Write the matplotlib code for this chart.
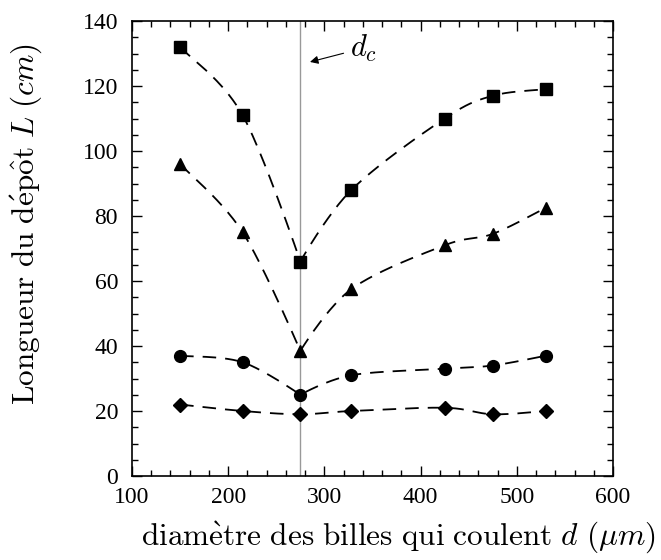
import numpy as np
import matplotlib
matplotlib.use("Agg")
import matplotlib.pyplot as plt
from matplotlib.ticker import MultipleLocator

plt.rcParams['mathtext.fontset'] = 'cm'
plt.rcParams['font.family'] = ['Liberation Serif', 'DejaVu Serif']

d = [150, 215, 275, 328, 425, 475, 530]
L_square = [132, 111, 66, 88, 110, 117, 119]
L_triangle = [96, 75, 38.5, 57.5, 71, 74.5, 82.5]
L_circle = [37, 35, 25, 31, 33, 34, 37]
L_diamond = [22, 20, 19, 20, 21, 19, 20]
d_c = 275

series = [(L_square, 's', 8), (L_triangle, '^', 9), (L_circle, 'o', 8.5), (L_diamond, 'D', 7)]


def smooth_curve(ax, x, y, n=40):
    # Hermite spline in display space; zero tangent (cusp) at local extrema
    pts = ax.transData.transform(np.column_stack([x, y]))
    N = len(pts)
    T = np.zeros_like(pts)
    for i in range(N):
        if i == 0:
            T[i] = 0.5 * (pts[1] - pts[0])
        elif i == N - 1:
            T[i] = 0.5 * (pts[-1] - pts[-2])
        else:
            dy1 = y[i] - y[i - 1]
            dy2 = y[i + 1] - y[i]
            if dy1 * dy2 < 0 and abs(dy1) + abs(dy2) > 10:
                T[i] = 0.0
            else:
                T[i] = 0.5 * (pts[i + 1] - pts[i - 1])
    out = []
    t = np.linspace(0, 1, n, endpoint=False)[:, None]
    h00 = 2 * t ** 3 - 3 * t ** 2 + 1
    h10 = t ** 3 - 2 * t ** 2 + t
    h01 = -2 * t ** 3 + 3 * t ** 2
    h11 = t ** 3 - t ** 2
    for i in range(N - 1):
        out.append(h00 * pts[i] + h10 * T[i] + h01 * pts[i + 1] + h11 * T[i + 1])
    out.append(pts[-1][None, :])
    out = np.vstack(out)
    data = ax.transData.inverted().transform(out)
    return data[:, 0], data[:, 1]


fig = plt.figure(figsize=(6.61, 5.60), dpi=100)
ax = fig.add_axes([0.1997, 0.15, 0.7277, 0.8125])
ax.set_xlim(100, 600)
ax.set_ylim(0, 140)

ax.axvline(d_c, color='#999999', lw=1.0, zorder=1)

for vals, m, ms in series:
    sx, sy = smooth_curve(ax, d, vals)
    ax.plot(sx, sy, color='black', lw=1.3, ls=(0, (7.5, 5)), zorder=2)
    ax.plot(d, vals, ls='none', marker=m, ms=ms, color='black', zorder=3)

ax.annotate(r'$d_c$', xy=(285, 127.4), xytext=(327, 131.7), fontsize=22,
            va='center', ha='left',
            arrowprops=dict(arrowstyle='-|>', color='#666666', lw=0.8,
                            shrinkA=3, shrinkB=0, mutation_scale=12, fc='black', ec='black'))

ax.xaxis.set_major_locator(MultipleLocator(100))
ax.xaxis.set_minor_locator(MultipleLocator(20))
ax.yaxis.set_major_locator(MultipleLocator(20))
ax.yaxis.set_minor_locator(MultipleLocator(5))
ax.tick_params(which='both', direction='in', top=True, right=True, labelsize=17)
ax.tick_params(axis='y', pad=10)
ax.tick_params(axis='x', pad=8)
ax.tick_params(which='major', length=7, width=1)
ax.tick_params(which='minor', length=4, width=1)
for s in ax.spines.values():
    s.set_linewidth(1.2)

fig.text(398 / 661, (560 - 545) / 560,
         r'$\mathrm{diam\grave{e}tre\ des\ billes\ qui\ coulent}\ d\ (\mu m)$',
         fontsize=22.5, ha='center', va='baseline')
fig.text(26 / 661, (560 - 224) / 560,
         r'$\mathrm{Longueur\ du\ d\acute{e}p\hat{o}t}\ L\ (cm)$',
         fontsize=22.5, ha='center', va='center', rotation=90)

fig.savefig('out.png', dpi=100)
